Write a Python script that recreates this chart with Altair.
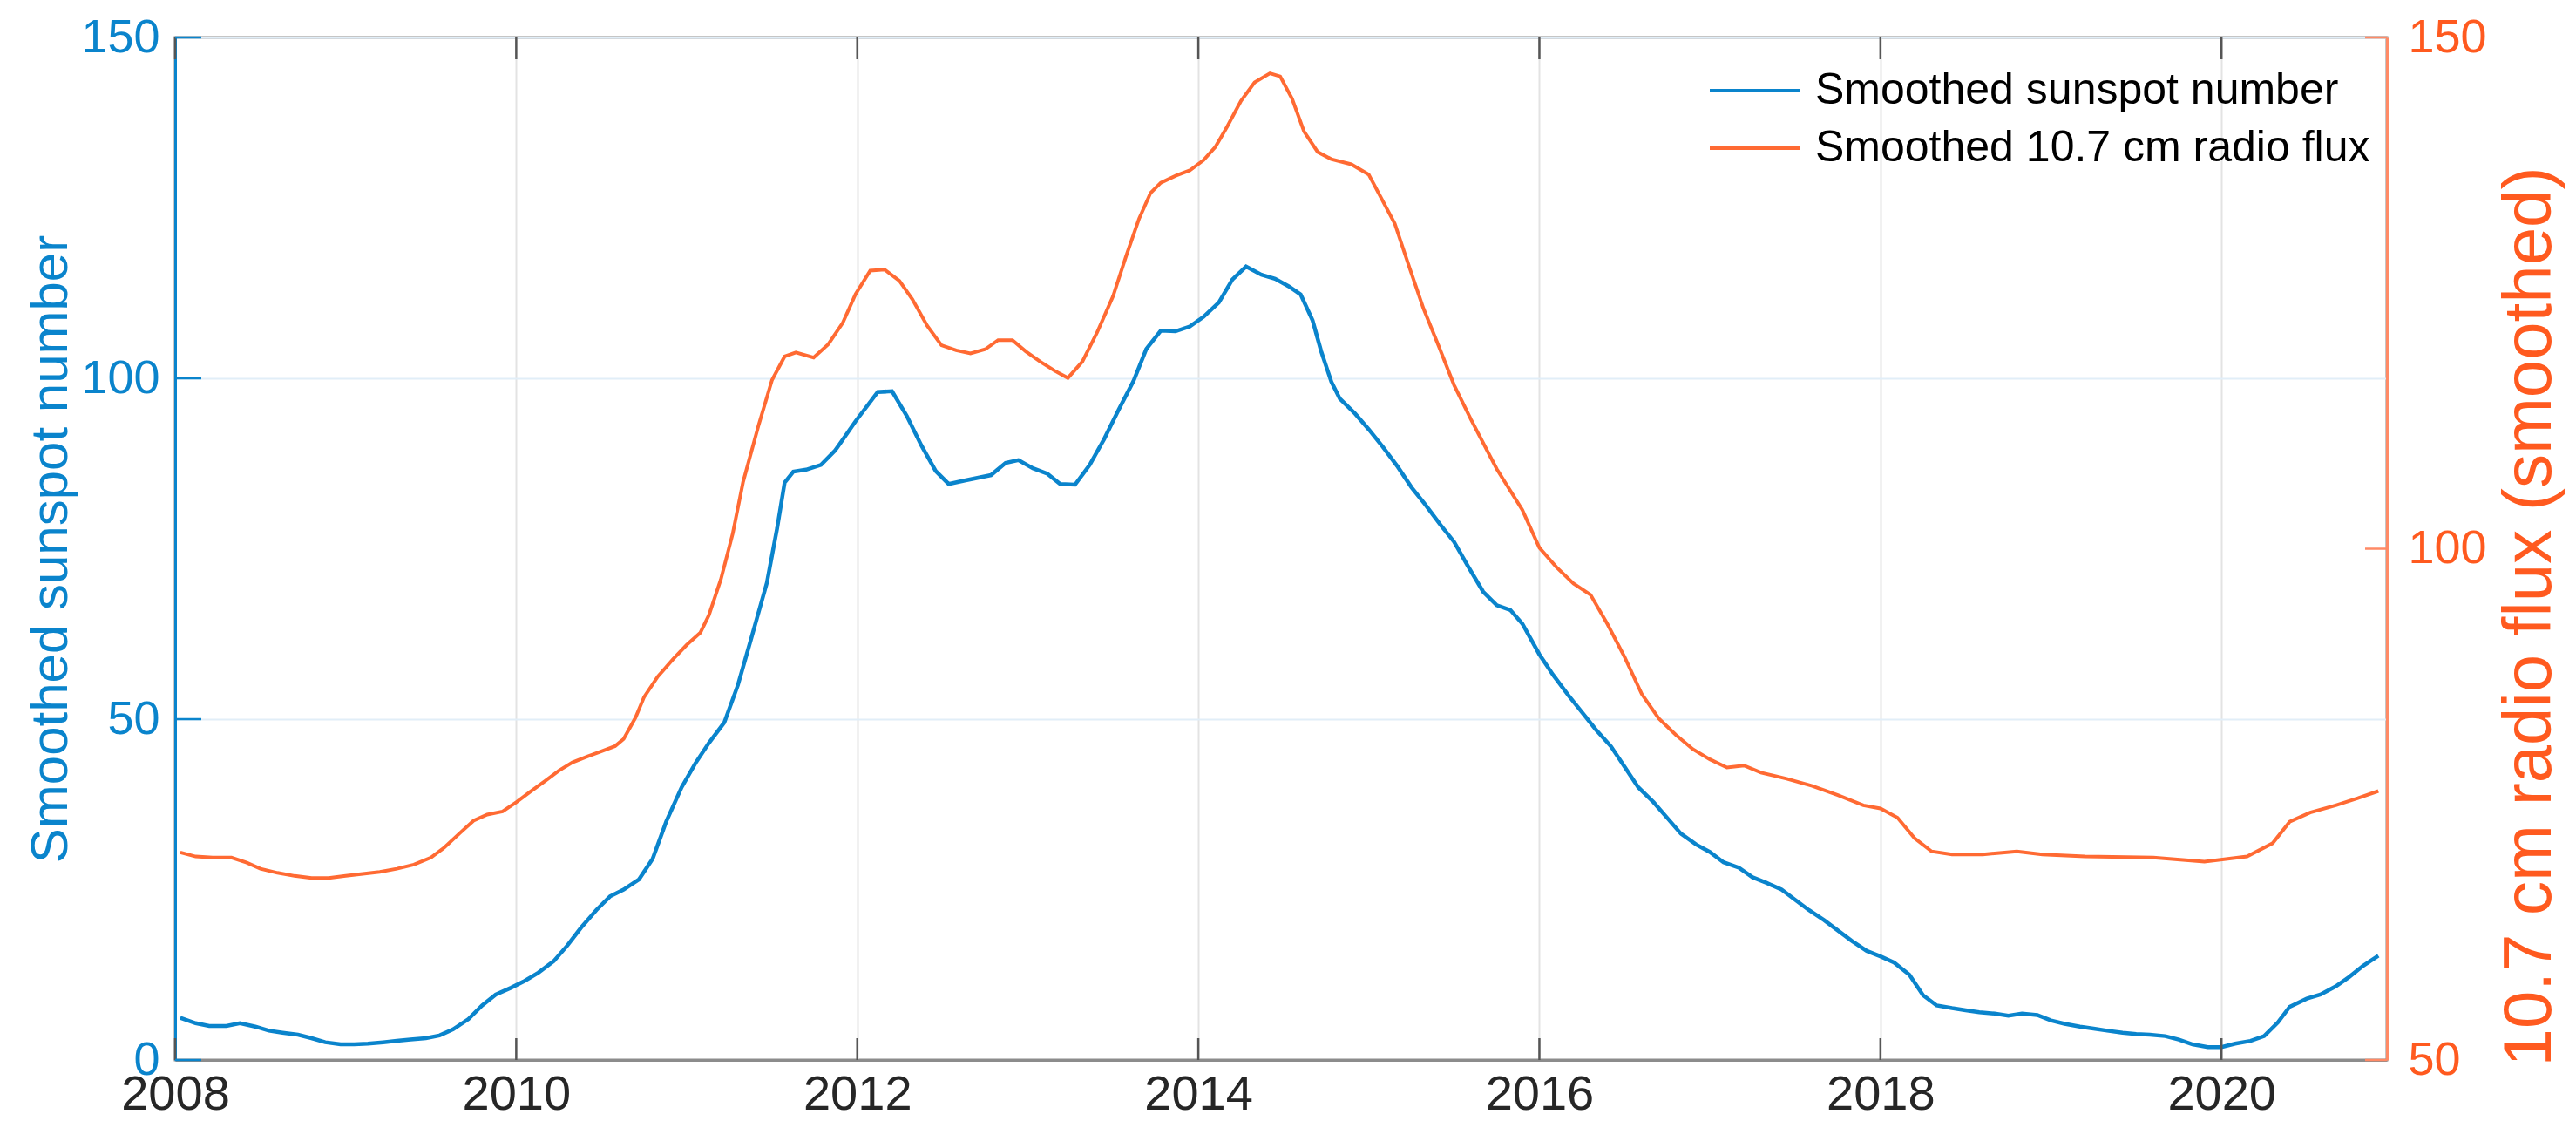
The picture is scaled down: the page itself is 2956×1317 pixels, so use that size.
import altair as alt
import pandas as pd

# ---------------- data ----------------
ssn_t = [2008.03, 2008.12, 2008.2, 2008.3, 2008.38, 2008.47, 2008.55, 2008.63, 2008.72, 2008.8,
         2008.88, 2008.97, 2009.05, 2009.13, 2009.22, 2009.3, 2009.38, 2009.47, 2009.55, 2009.63,
         2009.72, 2009.8, 2009.88, 2009.97, 2010.05, 2010.13, 2010.22, 2010.3, 2010.38, 2010.47,
         2010.55, 2010.63, 2010.72, 2010.8, 2010.88, 2010.97, 2011.05, 2011.13, 2011.22, 2011.3,
         2011.38, 2011.47, 2011.53,
         2011.574, 2011.625, 2011.70, 2011.787, 2011.87, 2011.99, 2012.12, 2012.204, 2012.29, 2012.375,
         2012.46, 2012.536, 2012.63, 2012.784, 2012.87, 2012.945, 2013.03, 2013.115, 2013.19, 2013.277,
         2013.363, 2013.448, 2013.533, 2013.62, 2013.695, 2013.78, 2013.866, 2013.95, 2014.03, 2014.12,
         2014.2, 2014.28, 2014.37, 2014.45, 2014.53, 2014.6, 2014.67, 2014.72, 2014.78, 2014.83,
         2014.92, 2015.0, 2015.08, 2015.17, 2015.25, 2015.33, 2015.42, 2015.5, 2015.58, 2015.67,
         2015.75, 2015.83, 2015.9, 2016.0, 2016.08, 2016.17, 2016.25, 2016.33, 2016.42, 2016.5,
         2016.58, 2016.67, 2016.75, 2016.83, 2016.92, 2017.0, 2017.08, 2017.17, 2017.25, 2017.33,
         2017.42, 2017.5, 2017.58, 2017.67, 2017.75, 2017.83, 2017.92, 2018.0, 2018.08, 2018.17,
         2018.25, 2018.33, 2018.42, 2018.5, 2018.58, 2018.67, 2018.75, 2018.83, 2018.92, 2019.0,
         2019.08, 2019.17, 2019.25, 2019.33, 2019.42, 2019.5, 2019.58, 2019.67, 2019.75, 2019.83,
         2019.92, 2020.0, 2020.08, 2020.17, 2020.25, 2020.33, 2020.4, 2020.5, 2020.58, 2020.67,
         2020.75, 2020.83, 2020.92]
ssn_v = [6.2, 5.4, 5.0, 5.0, 5.4, 4.9, 4.3, 4.0, 3.7, 3.2,
         2.6, 2.3, 2.3, 2.4, 2.6, 2.8, 3.0, 3.2, 3.6, 4.5,
         6.0, 8.0, 9.6, 10.6, 11.6, 12.8, 14.5, 16.8, 19.4, 22.0,
         24.0, 25.0, 26.5, 29.5, 35.0, 40.0, 43.5, 46.5, 49.5, 55.0,
         62.0, 70.0, 78.0,
         84.7, 86.3, 86.6, 87.3, 89.4, 93.7, 98.0, 98.1, 94.5, 90.2,
         86.4, 84.5, 85.0, 85.8, 87.6, 88.0, 86.8, 86.0, 84.5, 84.4,
         87.3, 91.1, 95.4, 99.6, 104.3, 107.0, 106.9, 107.6, 109.0, 111.1,
         114.5, 116.4, 115.2, 114.6, 113.5, 112.3, 108.5, 104.0, 99.5, 97.0,
         94.8, 92.5, 90.0, 87.0, 84.0, 81.5, 78.5, 76.0, 72.5, 68.7,
         66.7, 66.0, 64.0, 59.5, 56.5, 53.5, 51.0, 48.5, 46.0, 43.0,
         40.0, 37.8, 35.5, 33.2, 31.6, 30.5, 29.0, 28.2, 26.8, 26.0,
         25.0, 23.5, 22.0, 20.5, 19.0, 17.5, 16.0, 15.2, 14.3, 12.5,
         9.5, 8.0, 7.6, 7.3, 7.0, 6.8, 6.5, 6.8, 6.6, 5.8,
         5.3, 4.9, 4.6, 4.3, 4.0, 3.8, 3.7, 3.5, 3.0, 2.3,
         1.9, 1.9, 2.4, 2.8, 3.5, 5.5, 7.8, 9.0, 9.6, 10.8,
         12.2, 13.8, 15.3]

flux_t = [2008.03, 2008.12, 2008.22, 2008.33, 2008.42, 2008.5, 2008.6, 2008.7, 2008.8, 2008.9,
          2009.0, 2009.1, 2009.2, 2009.3, 2009.4, 2009.5, 2009.58, 2009.67, 2009.75, 2009.83,
          2009.92, 2010.0, 2010.08, 2010.17, 2010.25, 2010.33, 2010.42, 2010.5, 2010.58, 2010.63,
          2010.7, 2010.75, 2010.83, 2010.92, 2011.0, 2011.08, 2011.13, 2011.2, 2011.27, 2011.33,
          2011.42, 2011.5,
          2011.574, 2011.64, 2011.744, 2011.83, 2011.915, 2011.99, 2012.076, 2012.16, 2012.247, 2012.323,
          2012.41, 2012.494, 2012.58, 2012.664, 2012.75, 2012.826, 2012.91, 2012.988, 2013.073, 2013.158,
          2013.235, 2013.32, 2013.405, 2013.5, 2013.576, 2013.653,
          2013.72, 2013.78, 2013.87, 2013.95, 2014.03, 2014.1, 2014.17, 2014.25, 2014.33, 2014.42,
          2014.48, 2014.55, 2014.62, 2014.7, 2014.78, 2014.897, 2014.999, 2015.152, 2015.238, 2015.32,
          2015.41, 2015.5, 2015.6, 2015.75, 2015.9, 2016.0, 2016.1, 2016.2, 2016.3, 2016.4,
          2016.5, 2016.6, 2016.7, 2016.8, 2016.9, 2017.0, 2017.1, 2017.2, 2017.3, 2017.45,
          2017.6, 2017.75, 2017.9, 2018.0, 2018.1, 2018.2, 2018.3, 2018.42, 2018.6, 2018.8,
          2018.95, 2019.2, 2019.6, 2019.9, 2020.15, 2020.3, 2020.4, 2020.52, 2020.67, 2020.8,
          2020.92]
flux_v = [70.3, 69.9, 69.8, 69.8, 69.3, 68.7, 68.3, 68.0, 67.8, 67.8,
          68.0, 68.2, 68.4, 68.7, 69.1, 69.8, 70.8, 72.2, 73.4, 74.0,
          74.3, 75.2, 76.2, 77.3, 78.3, 79.1, 79.7, 80.2, 80.7, 81.4,
          83.5, 85.5, 87.5, 89.2, 90.6, 91.8, 93.5, 97.0, 101.5, 106.5,
          112.0, 116.5,
          118.8, 119.2, 118.7, 120.0, 122.1, 124.9, 127.2, 127.3, 126.2, 124.4,
          121.8, 119.9, 119.4, 119.1, 119.5, 120.4, 120.4, 119.3, 118.3, 117.4,
          116.7, 118.3, 121.1, 124.7, 128.6, 132.3,
          134.8, 135.8, 136.5, 137.0, 138.0, 139.3, 141.3, 143.8, 145.6, 146.5,
          146.2, 144.0, 140.8, 138.8, 138.1, 137.6, 136.6, 131.8, 127.5, 123.5,
          119.8, 116.0, 112.6, 107.8, 103.8, 100.1, 98.2, 96.6, 95.5, 92.6,
          89.4, 85.8, 83.4, 81.8, 80.4, 79.4, 78.6, 78.8, 78.1, 77.5,
          76.8, 75.9, 74.9, 74.6, 73.7, 71.7, 70.4, 70.1, 70.1, 70.4,
          70.1, 69.9, 69.8, 69.4, 69.9, 71.2, 73.3, 74.2, 74.9, 75.6,
          76.3]

series_names = ["Smoothed sunspot number", "Smoothed 10.7 cm radio flux"]
x_ticks = [2008, 2010, 2012, 2014, 2016, 2018, 2020]
left_ticks = [0, 50, 100, 150]
right_ticks = [50, 100, 150]
left_title = "Smoothed sunspot number"
right_title = "10.7 cm radio flux (smoothed)"

# ---------------- styling ----------------
BLUE = "#0A84CC"
ORANGE = "#FF6A33"
ORANGE_TXT = "#FF5A1F"
FONT = "Liberation Sans"
W, H = 2538, 1173
TICK = 25

ssn_df = pd.DataFrame({"t": ssn_t, "v": ssn_v, "s": series_names[0]})
flux_df = pd.DataFrame({"t": flux_t, "v": flux_v, "s": series_names[1]})

xscale = alt.Scale(domain=[2008, 2020.97], nice=False, zero=False)
yl = alt.Scale(domain=[0, 150], nice=False, zero=False)
yr = alt.Scale(domain=[50, 150], nice=False, zero=False)
cscale = alt.Scale(domain=series_names, range=[BLUE, ORANGE])

legend = alt.Legend(
    orient="none", legendX=1759, legendY=36, title=None,
    symbolType="stroke", symbolSize=10816, symbolStrokeWidth=4,
    labelFontSize=50, labelFont=FONT, labelColor="#000000",
    labelLimit=0, clipHeight=50, rowPadding=16, labelOffset=15, padding=0,
)

x_axis = alt.Axis(
    values=x_ticks, format="d", labelFontSize=56, labelFont=FONT, labelColor="#262626",
    labelPadding=12, labelFlush=False, labelOverlap=False, ticks=False, tickSize=0,
    domainColor="#8C8C8C", domainWidth=3, grid=True, gridColor="#E3E3E3", gridWidth=2,
    title=None,
)

left_axis = alt.Axis(
    orient="left", values=left_ticks, labelFontSize=54, labelFont=FONT, labelColor=BLUE,
    labelPadding=18, ticks=False, tickSize=0, domainColor=BLUE, domainWidth=3,
    grid=True, gridColor="#E1EEF8", gridWidth=2,
    title=left_title, titleFont=FONT, titleFontSize=60, titleFontWeight="normal",
    titleColor=BLUE, titleAngle=270, titleX=-143, titleY=H / 2, titleAlign="center",
    titleBaseline="middle",
)

right_axis = alt.Axis(
    orient="right", values=right_ticks, labelFontSize=54, labelFont=FONT, labelColor=ORANGE_TXT,
    labelPadding=24, ticks=False, tickSize=0, domainColor="#FF8A66", domainWidth=3,
    grid=False,
    title=right_title, titleFont=FONT, titleFontSize=78, titleFontWeight="normal",
    titleColor=ORANGE_TXT, titleAngle=270, titleX=164, titleY=664, titleAlign="center",
    titleBaseline="middle",
)

ssn_line = alt.Chart(ssn_df).mark_line(strokeWidth=4.5, interpolate="linear").encode(
    x=alt.X("t:Q", scale=xscale, axis=x_axis),
    y=alt.Y("v:Q", scale=yl, axis=left_axis),
    color=alt.Color("s:N", scale=cscale, legend=legend),
)

flux_line = alt.Chart(flux_df).mark_line(strokeWidth=4, interpolate="linear").encode(
    x=alt.X("t:Q", scale=xscale),
    y=alt.Y("v:Q", scale=yr, axis=right_axis),
    color=alt.Color("s:N", scale=cscale, legend=legend),
)

xt_df = pd.DataFrame({"t": x_ticks})
bottom_ticks = alt.Chart(xt_df).mark_rule(color="#555555", strokeWidth=2.5).encode(
    x=alt.X("t:Q", scale=xscale), y=alt.value(H), y2=alt.value(H - TICK))
top_ticks = alt.Chart(xt_df).mark_rule(color="#555555", strokeWidth=2.5).encode(
    x=alt.X("t:Q", scale=xscale), y=alt.value(0), y2=alt.value(TICK))

lt_df = pd.DataFrame({"v": left_ticks})
left_tick_marks = alt.Chart(lt_df).mark_rule(color=BLUE, strokeWidth=2.5).encode(
    y=alt.Y("v:Q", scale=yl, axis=None), x=alt.value(0), x2=alt.value(TICK + 5))
rt_df = pd.DataFrame({"v": right_ticks})
right_tick_marks = alt.Chart(rt_df).mark_rule(color="#FF8A66", strokeWidth=2.5).encode(
    y=alt.Y("v:Q", scale=yr, axis=None), x=alt.value(W), x2=alt.value(W - TICK))

chart = alt.layer(
    ssn_line, flux_line, bottom_ticks, top_ticks, left_tick_marks, right_tick_marks
).resolve_scale(y="independent").properties(
    width=W, height=H,
    autosize=alt.AutoSizeParams(type="none"),
    padding={"left": 193, "top": 35, "right": 209, "bottom": 93},
    background="white",
).configure_view(stroke="#8C8C8C", strokeWidth=3)

chart.save("out.html", embed_options={"renderer": "svg", "actions": False})
